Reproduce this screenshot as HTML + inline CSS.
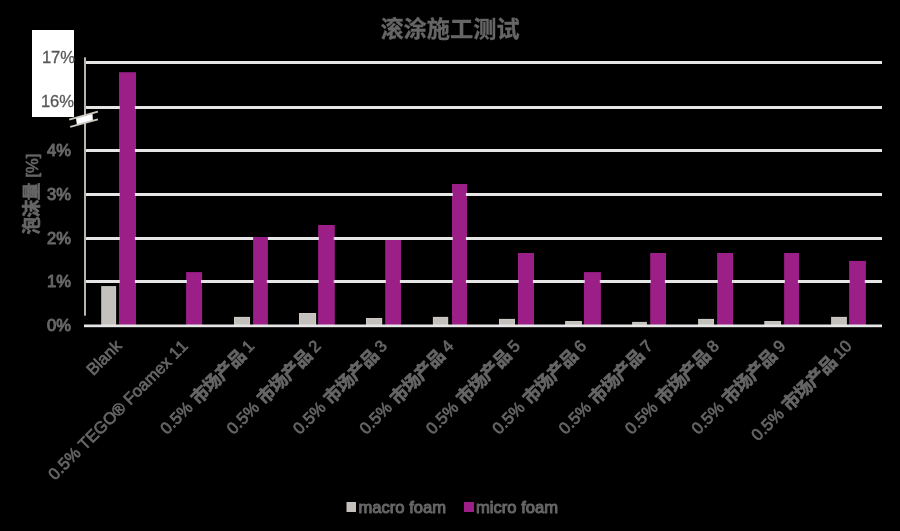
<!DOCTYPE html>
<html lang="zh">
<head>
<meta charset="utf-8">
<title>滚涂施工测试</title>
<style>
html,body{margin:0;padding:0;background:#000;}
body{width:900px;height:531px;overflow:hidden;position:relative;font-family:"Liberation Sans","Noto Sans CJK SC",sans-serif;}
svg{will-change:transform;position:absolute;left:0;top:0;display:block;}
svg text{font-family:"Liberation Sans","Noto Sans CJK SC",sans-serif;font-kerning:none;font-variant-ligatures:none;white-space:pre;}
.sr{position:absolute;left:0;top:0;width:1px;height:1px;overflow:hidden;opacity:0;color:transparent;font-size:1px;line-height:1px;white-space:nowrap;}
</style>
</head>
<body>
<svg width="900" height="531" viewBox="0 0 900 531" role="img" aria-label="滚涂施工测试">
<defs><filter id="bl" x="-20%" y="-50%" width="140%" height="200%"><feGaussianBlur stdDeviation="0.45"/></filter></defs>
<rect x="0" y="0" width="900" height="531" fill="#000"/>
<rect x="32" y="30" width="42" height="87" fill="#fff"/>
<rect x="86" y="61" width="796" height="3" fill="#e6e6e6"/>
<rect x="86" y="106" width="796" height="3" fill="#e6e6e6"/>
<rect x="86" y="149" width="796" height="3" fill="#e6e6e6"/>
<rect x="86" y="193" width="796" height="3" fill="#e6e6e6"/>
<rect x="86" y="237" width="796" height="3" fill="#e6e6e6"/>
<rect x="86" y="280" width="796" height="3" fill="#e6e6e6"/>
<rect x="84" y="57.3" width="2" height="258.4" fill="#b9b4ac"/>
<rect x="101.2" y="286.1" width="14.9" height="38.9" fill="#cbc8c3"/>
<rect x="102.2" y="287.1" width="12.9" height="37.9" fill="#c4c1bc"/>
<rect x="234.0" y="316.9" width="16.0" height="8.1" fill="#cbc8c3"/>
<rect x="235.0" y="317.9" width="14.0" height="7.1" fill="#c4c1bc"/>
<rect x="299.0" y="313.0" width="17.1" height="12.0" fill="#cbc8c3"/>
<rect x="300.0" y="314.0" width="15.1" height="11.0" fill="#c4c1bc"/>
<rect x="366.0" y="318.0" width="16.2" height="7.0" fill="#cbc8c3"/>
<rect x="367.0" y="319.0" width="14.2" height="6.0" fill="#c4c1bc"/>
<rect x="432.9" y="316.9" width="15.3" height="8.1" fill="#cbc8c3"/>
<rect x="433.9" y="317.9" width="13.3" height="7.1" fill="#c4c1bc"/>
<rect x="499.0" y="318.9" width="16.0" height="6.1" fill="#cbc8c3"/>
<rect x="500.0" y="319.9" width="14.0" height="5.1" fill="#c4c1bc"/>
<rect x="565.1" y="321.0" width="16.8" height="4.0" fill="#cbc8c3"/>
<rect x="566.1" y="322.0" width="14.8" height="3.0" fill="#c4c1bc"/>
<rect x="632.1" y="321.9" width="14.8" height="3.1" fill="#cbc8c3"/>
<rect x="633.1" y="322.9" width="12.8" height="2.1" fill="#c4c1bc"/>
<rect x="698.1" y="318.9" width="15.9" height="6.1" fill="#cbc8c3"/>
<rect x="699.1" y="319.9" width="13.9" height="5.1" fill="#c4c1bc"/>
<rect x="764.3" y="321.0" width="16.7" height="4.0" fill="#cbc8c3"/>
<rect x="765.3" y="322.0" width="14.7" height="3.0" fill="#c4c1bc"/>
<rect x="831.1" y="316.9" width="15.8" height="8.1" fill="#cbc8c3"/>
<rect x="832.1" y="317.9" width="13.8" height="7.1" fill="#c4c1bc"/>
<rect x="119.0" y="72.2" width="17.0" height="252.8" fill="#9b1f87"/>
<rect x="186.1" y="272.1" width="16.0" height="52.9" fill="#9b1f87"/>
<rect x="253.1" y="237" width="14.8" height="88.0" fill="#9b1f87"/>
<rect x="318.1" y="225" width="16.7" height="100.0" fill="#9b1f87"/>
<rect x="385.2" y="240" width="15.8" height="85.0" fill="#9b1f87"/>
<rect x="452.0" y="184" width="15.0" height="141.0" fill="#9b1f87"/>
<rect x="518.0" y="253" width="16.0" height="72.0" fill="#9b1f87"/>
<rect x="583.9" y="272.1" width="17.0" height="52.9" fill="#9b1f87"/>
<rect x="650.2" y="253" width="15.8" height="72.0" fill="#9b1f87"/>
<rect x="717.1" y="253" width="16.0" height="72.0" fill="#9b1f87"/>
<rect x="784.1" y="253" width="14.9" height="72.0" fill="#9b1f87"/>
<rect x="849.1" y="260.9" width="16.8" height="64.1" fill="#9b1f87"/>
<rect x="119.0" y="106" width="0.8" height="3" fill="#e6e6e6"/><rect x="134.9" y="106" width="1.1" height="3" fill="#e6e6e6"/>
<rect x="119.0" y="149" width="0.8" height="3" fill="#e6e6e6"/><rect x="134.9" y="149" width="1.1" height="3" fill="#e6e6e6"/>
<rect x="119.0" y="193" width="0.8" height="3" fill="#e6e6e6"/><rect x="134.9" y="193" width="1.1" height="3" fill="#e6e6e6"/>
<rect x="119.0" y="237" width="0.8" height="3" fill="#e6e6e6"/><rect x="134.9" y="237" width="1.1" height="3" fill="#e6e6e6"/>
<rect x="119.0" y="280" width="0.8" height="3" fill="#e6e6e6"/><rect x="134.9" y="280" width="1.1" height="3" fill="#e6e6e6"/>
<rect x="186.1" y="280" width="0.8" height="3" fill="#e6e6e6"/><rect x="201.0" y="280" width="1.1" height="3" fill="#e6e6e6"/>
<rect x="253.1" y="280" width="0.8" height="3" fill="#e6e6e6"/><rect x="266.8" y="280" width="1.1" height="3" fill="#e6e6e6"/>
<rect x="318.1" y="237" width="0.8" height="3" fill="#e6e6e6"/><rect x="333.7" y="237" width="1.1" height="3" fill="#e6e6e6"/>
<rect x="318.1" y="280" width="0.8" height="3" fill="#e6e6e6"/><rect x="333.7" y="280" width="1.1" height="3" fill="#e6e6e6"/>
<rect x="385.2" y="280" width="0.8" height="3" fill="#e6e6e6"/><rect x="399.9" y="280" width="1.1" height="3" fill="#e6e6e6"/>
<rect x="452.0" y="193" width="0.8" height="3" fill="#e6e6e6"/><rect x="465.9" y="193" width="1.1" height="3" fill="#e6e6e6"/>
<rect x="452.0" y="237" width="0.8" height="3" fill="#e6e6e6"/><rect x="465.9" y="237" width="1.1" height="3" fill="#e6e6e6"/>
<rect x="452.0" y="280" width="0.8" height="3" fill="#e6e6e6"/><rect x="465.9" y="280" width="1.1" height="3" fill="#e6e6e6"/>
<rect x="518.0" y="280" width="0.8" height="3" fill="#e6e6e6"/><rect x="532.9" y="280" width="1.1" height="3" fill="#e6e6e6"/>
<rect x="583.9" y="280" width="0.8" height="3" fill="#e6e6e6"/><rect x="599.8" y="280" width="1.1" height="3" fill="#e6e6e6"/>
<rect x="650.2" y="280" width="0.8" height="3" fill="#e6e6e6"/><rect x="664.9" y="280" width="1.1" height="3" fill="#e6e6e6"/>
<rect x="717.1" y="280" width="0.8" height="3" fill="#e6e6e6"/><rect x="732.0" y="280" width="1.1" height="3" fill="#e6e6e6"/>
<rect x="784.1" y="280" width="0.8" height="3" fill="#e6e6e6"/><rect x="797.9" y="280" width="1.1" height="3" fill="#e6e6e6"/>
<rect x="849.1" y="280" width="0.8" height="3" fill="#e6e6e6"/><rect x="864.8" y="280" width="1.1" height="3" fill="#e6e6e6"/>
<rect x="84" y="324.5" width="798" height="2.6999999999999886" fill="#e6e6e6"/>
<g filter="url(#bl)"><polygon points="76,118 92.5,113.4 92.9,120.9 76.9,125.3" fill="#fff"/><path d="M69.2 119.6 L97.9 111.7 M70.2 126.9 L97.9 119.3" stroke="#cdc9c2" stroke-width="1.9" fill="none"/></g>
<g opacity="0.999" fill="#676767" stroke="#676767" stroke-width="0.7" stroke-linejoin="round">
<g stroke-width="0.3" transform="translate(450 36.5)"><text x="-69.60 -46.40 -23.20 0.00 23.20 46.40" y="0" font-size="23.2" font-weight="bold" xml:space="preserve">滚涂施工测试</text></g>
<g stroke-width="1.0" transform="translate(71.1 155.5)"><text x="-23.99" y="0" font-size="16.6" xml:space="preserve">4%</text></g>
<g stroke-width="1.0" transform="translate(71.1 199.7)"><text x="-23.99" y="0" font-size="16.6" xml:space="preserve">3%</text></g>
<g stroke-width="1.0" transform="translate(71.1 243.5)"><text x="-23.99" y="0" font-size="16.6" xml:space="preserve">2%</text></g>
<g stroke-width="1.0" transform="translate(71.1 287.3)"><text x="-23.99" y="0" font-size="16.6" xml:space="preserve">1%</text></g>
<g stroke-width="1.0" transform="translate(71.1 331.2)"><text x="-23.99" y="0" font-size="16.6" xml:space="preserve">0%</text></g>
<g stroke-width="0.7" transform="translate(38 193.9) rotate(-90)"><text x="-40.68 -23.58 -6.48" y="0" font-size="17.76" font-weight="bold" xml:space="preserve">泡沫量</text><text x="11.75" y="0" font-size="16.6" xml:space="preserve"> [%]</text></g>
<g transform="translate(122.5 347.0) rotate(-45)"><text x="-41.52" y="0" font-size="16.6" xml:space="preserve">Blank</text></g>
<g transform="translate(188.9 347.0) rotate(-45)"><text x="-189.37" y="0" font-size="16.6" xml:space="preserve">0.5% TEGO® Foamex 11</text></g>
<g transform="translate(255.3 347.0) rotate(-45)"><text x="-124.82" y="0" font-size="16.6" xml:space="preserve">0.5% </text><text x="-81.78 -64.59 -47.41 -30.23" y="1" font-size="17.6" font-weight="bold" xml:space="preserve">市场产品</text><text x="-13.84" y="0" font-size="16.6" xml:space="preserve"> 1</text></g>
<g transform="translate(321.7 347.0) rotate(-45)"><text x="-124.82" y="0" font-size="16.6" xml:space="preserve">0.5% </text><text x="-81.78 -64.59 -47.41 -30.23" y="1" font-size="17.6" font-weight="bold" xml:space="preserve">市场产品</text><text x="-13.84" y="0" font-size="16.6" xml:space="preserve"> 2</text></g>
<g transform="translate(388.1 347.0) rotate(-45)"><text x="-124.82" y="0" font-size="16.6" xml:space="preserve">0.5% </text><text x="-81.78 -64.59 -47.41 -30.23" y="1" font-size="17.6" font-weight="bold" xml:space="preserve">市场产品</text><text x="-13.84" y="0" font-size="16.6" xml:space="preserve"> 3</text></g>
<g transform="translate(454.5 347.0) rotate(-45)"><text x="-124.82" y="0" font-size="16.6" xml:space="preserve">0.5% </text><text x="-81.78 -64.59 -47.41 -30.23" y="1" font-size="17.6" font-weight="bold" xml:space="preserve">市场产品</text><text x="-13.84" y="0" font-size="16.6" xml:space="preserve"> 4</text></g>
<g transform="translate(520.9 347.0) rotate(-45)"><text x="-124.82" y="0" font-size="16.6" xml:space="preserve">0.5% </text><text x="-81.78 -64.59 -47.41 -30.23" y="1" font-size="17.6" font-weight="bold" xml:space="preserve">市场产品</text><text x="-13.84" y="0" font-size="16.6" xml:space="preserve"> 5</text></g>
<g transform="translate(587.3 347.0) rotate(-45)"><text x="-124.82" y="0" font-size="16.6" xml:space="preserve">0.5% </text><text x="-81.78 -64.59 -47.41 -30.23" y="1" font-size="17.6" font-weight="bold" xml:space="preserve">市场产品</text><text x="-13.84" y="0" font-size="16.6" xml:space="preserve"> 6</text></g>
<g transform="translate(653.7 347.0) rotate(-45)"><text x="-124.82" y="0" font-size="16.6" xml:space="preserve">0.5% </text><text x="-81.78 -64.59 -47.41 -30.23" y="1" font-size="17.6" font-weight="bold" xml:space="preserve">市场产品</text><text x="-13.84" y="0" font-size="16.6" xml:space="preserve"> 7</text></g>
<g transform="translate(720.1 347.0) rotate(-45)"><text x="-124.82" y="0" font-size="16.6" xml:space="preserve">0.5% </text><text x="-81.78 -64.59 -47.41 -30.23" y="1" font-size="17.6" font-weight="bold" xml:space="preserve">市场产品</text><text x="-13.84" y="0" font-size="16.6" xml:space="preserve"> 8</text></g>
<g transform="translate(786.5 347.0) rotate(-45)"><text x="-124.82" y="0" font-size="16.6" xml:space="preserve">0.5% </text><text x="-81.78 -64.59 -47.41 -30.23" y="1" font-size="17.6" font-weight="bold" xml:space="preserve">市场产品</text><text x="-13.84" y="0" font-size="16.6" xml:space="preserve"> 9</text></g>
<g transform="translate(852.9 347.0) rotate(-45)"><text x="-134.05" y="0" font-size="16.6" xml:space="preserve">0.5% </text><text x="-91.01 -73.83 -56.65 -39.46" y="1" font-size="17.6" font-weight="bold" xml:space="preserve">市场产品</text><text x="-23.08" y="0" font-size="16.6" xml:space="preserve"> 10</text></g>
<g stroke-width="1.0" transform="translate(358.5 512.5)"><text x="0.00" y="0" font-size="16.6" xml:space="preserve">macro foam</text></g>
<g stroke-width="1.0" transform="translate(476 512.5)"><text x="0.00" y="0" font-size="16.6" xml:space="preserve">micro foam</text></g>
</g>
<g opacity="0.999" fill="#585858" stroke="#585858" stroke-width="0.3">
<g transform="translate(75.1 62.6) scale(1 1)"><text x="-33.22" y="0" font-size="16.6" xml:space="preserve">17%</text></g>
<g transform="translate(74.1 107.1) scale(1 1)"><text x="-33.22" y="0" font-size="16.6" xml:space="preserve">16%</text></g>
</g>
<rect x="346.5" y="502" width="9.5" height="10" fill="#c4c1bc"/>
<rect x="464" y="502" width="10" height="10" fill="#9b1f87"/>
</svg>
<div class="sr"><span>滚涂施工测试</span><span>泡沫量 [%]</span><span>Blank</span><span>0.5% TEGO® Foamex 11</span><span>0.5% 市场产品 1</span><span>0.5% 市场产品 2</span><span>0.5% 市场产品 3</span><span>0.5% 市场产品 4</span><span>0.5% 市场产品 5</span><span>0.5% 市场产品 6</span><span>0.5% 市场产品 7</span><span>0.5% 市场产品 8</span><span>0.5% 市场产品 9</span><span>0.5% 市场产品 10</span></div>
</body>
</html>
